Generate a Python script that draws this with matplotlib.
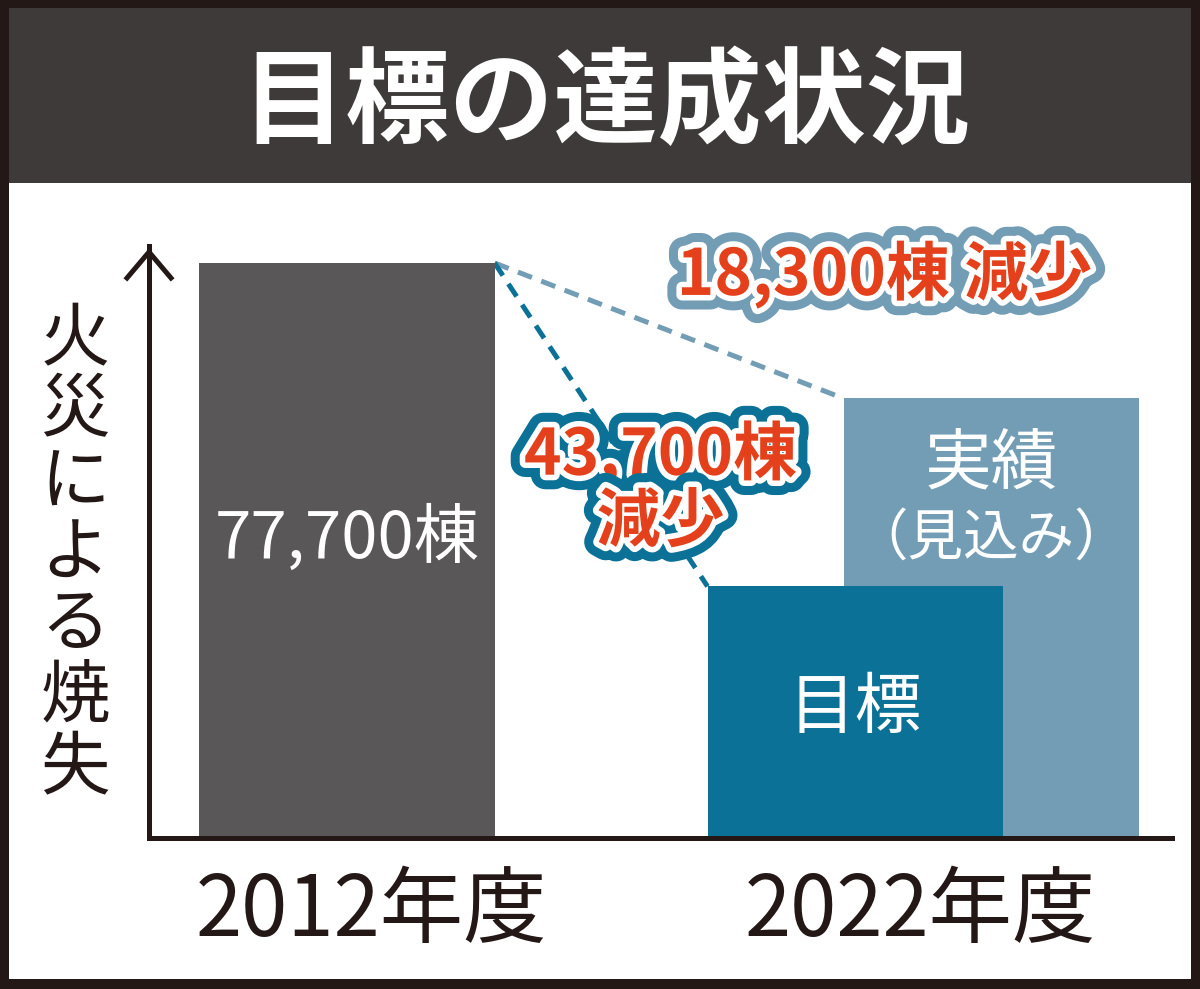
import numpy as np
import matplotlib.pyplot as plt
import matplotlib.patheffects as pe
from matplotlib.patches import Rectangle
from matplotlib.lines import Line2D

plt.rcParams['font.family'] = ['Noto Sans CJK JP', 'DejaVu Sans']

# data
title = '目標の達成状況'
ylabel = '火災による焼失'
years = ['2012年度', '2022年度']
base_value = 77700     # 2012年度
target_value = 34000   # 2022年度 目標
actual_value = 59400   # 2022年度 実績（見込み）

W, H = 1200, 989
DARK = '#231815'
RED = '#e4401b'
GREY = '#595757'
TEAL = '#0b7196'
LBLUE = '#739db5'

fig = plt.figure(figsize=(W / 100, H / 100), dpi=100, facecolor=DARK)

def fx(px):
    return px / W

def fy(py):
    return 1 - py / H

# frame + title band
fig.add_artist(Rectangle((fx(9), fy(979)), fx(1182), 970 / H, transform=fig.transFigure,
                         facecolor='white', edgecolor='none', zorder=0))
fig.add_artist(Rectangle((fx(9), fy(183)), fx(1182), 175 / H, transform=fig.transFigure,
                         facecolor='#3e3a39', edgecolor='none', zorder=0))
fig.text(fx(606), fy(104), title, color='white', fontsize=75, fontweight='bold',
         ha='center', va='center')

# axes
ax = fig.add_axes([fx(149), fy(838), fx(1172 - 149), (838 - 246) / H])
ax.set_facecolor('none')
ax.set_ylim(0, 80000)
ax.set_xlim(-0.669, 2.791)

pos = [0, 1.72, 2.18]
ax.bar(pos[2], actual_value, width=1, color=LBLUE, zorder=2)
ax.bar(pos[1], target_value, width=1, color=TEAL, zorder=3)
ax.bar(pos[0], base_value, width=1, color=GREY, zorder=3)

# dashed connectors
ax.plot([pos[0] + 0.5, pos[2] - 0.5], [base_value, actual_value], color=LBLUE,
        lw=3.6, ls=(0, (3, 2)), zorder=1)
ax.plot([pos[0] + 0.5, pos[1] - 0.5], [base_value, target_value], color=TEAL,
        lw=3.6, ls=(0, (3, 2)), zorder=1)

# bar labels
ax.text(pos[0], base_value * 0.52, f'{base_value:,}棟', color='white', fontsize=47,
        ha='center', va='center', zorder=5)
ax.text(pos[1], target_value * 0.51, '目標', color='white', fontsize=48,
        ha='center', va='center', zorder=5)
ax.text(pos[2], actual_value * 0.85, '実績', color='white', fontsize=48,
        ha='center', va='center', zorder=5)
ax.text(pos[2], actual_value * 0.68, '（見込み）', color='white', fontsize=40,
        ha='center', va='center', zorder=5)

# reduction labels
def outlined(x, y, s, edge):
    ax.text(x, y, s, color=RED, fontsize=46, fontweight='bold', ha='center', va='center',
            linespacing=1.02, zorder=6,
            path_effects=[pe.Stroke(linewidth=21, foreground=edge, joinstyle='round'),
                          pe.Stroke(linewidth=8, foreground='white', joinstyle='round'),
                          pe.Normal()])

outlined(1.818, 76100, f'{base_value - actual_value:,}棟 減少', LBLUE)
outlined(1.061, 47300, f'{base_value - target_value:,}棟\n減少', TEAL)

# axes styling
for s in ['top', 'right']:
    ax.spines[s].set_visible(False)
for s in ['left', 'bottom']:
    ax.spines[s].set_linewidth(3.6)
    ax.spines[s].set_color(DARK)
    ax.spines[s].set_zorder(4)
ax.set_yticks([])
ax.set_xticks([0.084, 1.939])
ax.set_xticklabels(years, fontsize=60, color=DARK)
ax.tick_params(axis='x', length=0, pad=22)

# arrow head on y axis
fig.add_artist(Line2D([fx(127), fx(149), fx(171)], [fy(278), fy(252), fy(278)],
                      transform=fig.transFigure, color=DARK, lw=3.6,
                      solid_joinstyle='miter'))

fig.text(fx(75), fy(554), '\n'.join(ylabel), color=DARK, fontsize=50,
         ha='center', va='center', linespacing=1.0)

fig.savefig('out.png', dpi=100, facecolor=DARK)
